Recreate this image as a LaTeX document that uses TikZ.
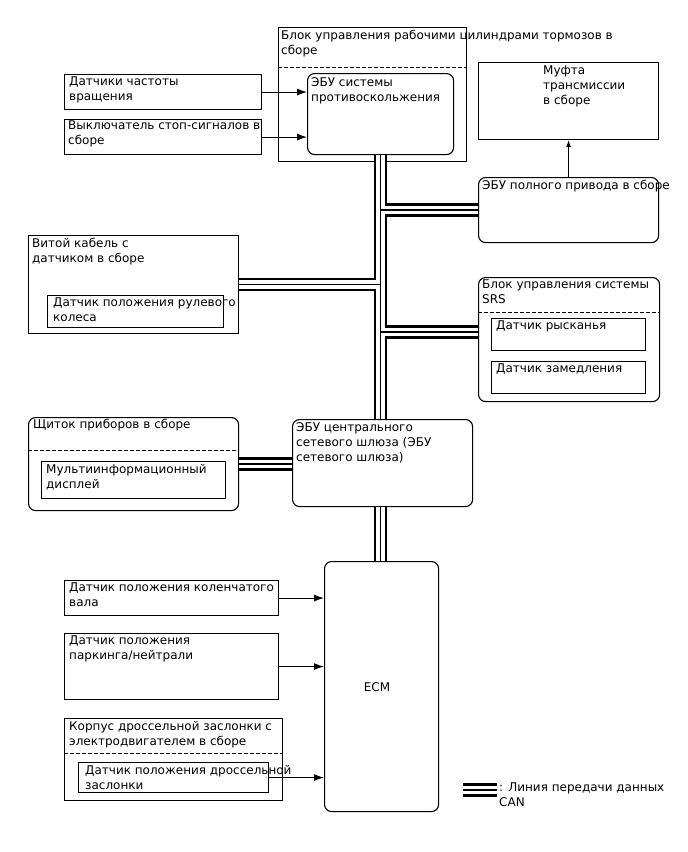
\documentclass[tikz,border=0pt]{standalone}
\usepackage{fontspec}
\setmainfont{DejaVu Sans}
\usetikzlibrary{arrows.meta}
\begin{document}
\begin{tikzpicture}[x=1pt,y=-1pt,
  blk/.style={draw, line width=1.1pt, anchor=north west, inner sep=0pt},
  rblk/.style={blk, rounded corners=7pt},
  lbl/.style={anchor=north west, inner sep=0pt, align=left, font=\fontsize{12}{15}\selectfont},
  dsh/.style={line width=0.6pt, dash pattern=on 4pt off 2pt},
  arr/.style={line width=1pt, -{Latex[length=10pt,width=7pt]}},
  canA/.style={line width=13.5pt},
  canB/.style={white, line width=8.5pt},
  canC/.style={line width=1.3pt}]
\useasboundingbox[fill=white] (0,0) rectangle (688,852);

% ABS block
\node[blk, minimum width=188pt, minimum height=134pt] (abs) at (278,27) {};
\coordinate (absd) at (0,67);
\draw[dsh] (abs.west |- absd) -- (abs.east |- absd);
\node[lbl] (absT) at (281,30) {Блок управления рабочими цилиндрами тормозов в\\сборе};
\node[rblk, minimum width=146pt, minimum height=81pt] (absi) at (307,73) {};
\node[lbl] (absiT) at (311,77) {ЭБУ системы\\противоскольжения};

% speed sensors
\node[blk, minimum width=197pt, minimum height=35pt] (spd) at (64,74) {};
\node[lbl] (spdT) at (69,77) {Датчики частоты\\вращения};
\node[blk, minimum width=197pt, minimum height=35pt] (stp) at (64,119) {};
\node[lbl] (stpT) at (68,121) {Выключатель стоп-сигналов в\\сборе};
\draw[arr] (spd.east) -- (spd.east -| absi.west);
\draw[arr] (stp.east) -- (stp.east -| absi.west);

% transfer
\node[blk, minimum width=180pt, minimum height=77pt] (muf) at (478,62) {};
\node[lbl] (mufT) at (543,66) {Муфта\\трансмиссии\\в сборе};
\node[rblk, minimum width=180pt, minimum height=65pt] (awd) at (478,177) {};
\node[lbl] (awdT) at (482,180) {ЭБУ полного привода в сборе};
\draw[line width=1pt, -{Latex[length=7pt,width=5pt]}] (awd.north) -- (muf.south);

% spiral cable
\node[blk, minimum width=210pt, minimum height=98pt] (vit) at (28,235) {};
\node[lbl] (vitT) at (32,238) {Витой кабель с\\датчиком в сборе};
\node[blk, minimum width=176pt, minimum height=32pt] (str) at (47,295) {};
\node[lbl] (strT) at (53,298) {Датчик положения рулевого\\колеса};

% SRS
\node[rblk, minimum width=181pt, minimum height=124pt] (srs) at (478,277) {};
\coordinate (srsd) at (0,312);
\draw[dsh] (srs.west |- srsd) -- (srs.east |- srsd);
\node[lbl] (srsT) at (482,280) {Блок управления системы\\SRS};
\node[blk, minimum width=154pt, minimum height=32pt] (yaw) at (491,318) {};
\node[lbl] (yawT) at (496,321) {Датчик рысканья};
\node[blk, minimum width=154pt, minimum height=32pt] (dec) at (491,361) {};
\node[lbl] (decT) at (496,364) {Датчик замедления};

% combination meter
\node[rblk, minimum width=210pt, minimum height=93pt] (met) at (28,417) {};
\coordinate (metd) at (0,450);
\draw[dsh] (met.west |- metd) -- (met.east |- metd);
\node[lbl] (metT) at (33,419) {Щиток приборов в сборе};
\node[blk, minimum width=184pt, minimum height=37pt] (mid) at (41,461) {};
\node[lbl] (midT) at (46,464) {Мультиинформационный\\дисплей};

% gateway
\node[rblk, minimum width=180pt, minimum height=87pt] (gw) at (292,419) {};
\node[lbl] (gwT) at (296,422) {ЭБУ центрального\\сетевого шлюза (ЭБУ\\сетевого шлюза)};

% ECM
\node[rblk, minimum width=114pt, minimum height=250pt] (ecm) at (324,561) {};
\node[inner sep=0pt, font=\fontsize{12}{15}\selectfont] (ecmT) at (377,687) {ECM};

% engine sensors
\node[blk, minimum width=214pt, minimum height=35pt] (crk) at (64,580) {};
\node[lbl] (crkT) at (69,583) {Датчик положения коленчатого\\вала};
\node[blk, minimum width=214pt, minimum height=66pt] (pnp) at (64,633) {};
\node[lbl] (pnpT) at (69,636) {Датчик положения\\паркинга/нейтрали};
\node[blk, minimum width=218pt, minimum height=82pt] (thr) at (64,718) {};
\coordinate (thrd) at (0,753);
\draw[dsh] (thr.west |- thrd) -- (thr.east |- thrd);
\node[lbl] (thrT) at (69,721) {Корпус дроссельной заслонки с\\электродвигателем в сборе};
\node[blk, minimum width=190pt, minimum height=30pt] (tps) at (78,762) {};
\node[lbl] (tpsT) at (85,765) {Датчик положения дроссельной\\заслонки};
\draw[arr] (crk.east) -- (crk.east -| ecm.west);
\draw[arr] (pnp.east) -- (pnp.east -| ecm.west);
\draw[arr] (tps.east) -- (tps.east -| ecm.west);

% CAN bus
\coordinate (bx) at (380.5,0);
\coordinate (srsy) at (0,332);
\coordinate (lg1) at (463,790);
\coordinate (lg2) at (497,790);
\foreach \st in {canA,canB,canC}{
  \draw[\st] (bx |- absi.south) -- (bx |- gw.north);
  \draw[\st] (bx |- gw.south) -- (bx |- ecm.north);
  \draw[\st] (bx |- awd.west) -- (awd.west);
  \draw[\st] (vit.east) -- (vit.east -| bx);
  \draw[\st] (bx |- srsy) -- (srs.west |- srsy);
  \draw[\st] (met.east) -- (met.east -| gw.west);
  \draw[\st] (lg1) -- (lg2);
}
\node[lbl] (lgT) at (499,783) {: Линия передачи данных\\CAN};
\end{tikzpicture}
\end{document}
